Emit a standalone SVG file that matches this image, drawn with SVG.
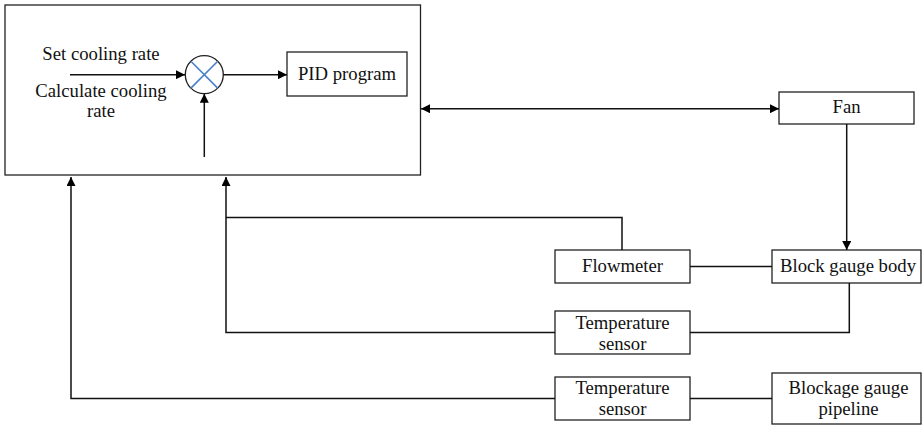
<svg xmlns="http://www.w3.org/2000/svg" width="922" height="425" viewBox="0 0 922 425">
<style>
.box{fill:#fff;stroke:#222;stroke-width:1.3}
.t{font-family:'Liberation Serif','DejaVu Serif',serif;font-size:18.7px;fill:#111;text-anchor:middle}
.c{fill:none;stroke:#111;stroke-width:1.5}
.x{stroke:#4a7fc9;stroke-width:1.6}
</style>
<defs>
<marker id="ah" viewBox="0 0 10 10" refX="10" refY="5" markerWidth="10" markerHeight="9" markerUnits="userSpaceOnUse" orient="auto-start-reverse">
<path d="M0,0 L10,5 L0,10 Z" fill="#000"/>
</marker>
</defs>
<rect fill="#fff" x="0" y="0" width="922" height="425"/>
<g id="controller">
<rect class="box" x="5" y="5" width="415.5" height="170"/>
<text class="t" x="101" y="60">Set cooling rate</text>
<text class="t" x="101" y="96.7">Calculate cooling</text>
<text class="t" x="101" y="117.3">rate</text>
</g>
<g id="sum">
<circle cx="204.3" cy="74.7" r="19" fill="#fff" stroke="#222" stroke-width="1.3"/>
<line class="x" x1="190.9" y1="61.3" x2="217.7" y2="88.1"/>
<line class="x" x1="217.7" y1="61.3" x2="190.9" y2="88.1"/>
</g>
<g id="pid">
<rect class="box" x="287" y="52" width="120" height="44"/>
<text class="t" x="347" y="80">PID program</text>
</g>
<g id="fan">
<rect class="box" x="779" y="92" width="135" height="32"/>
<text class="t" x="846.5" y="113.3">Fan</text>
</g>
<g id="flowmeter">
<rect class="box" x="555" y="250" width="135" height="33"/>
<text class="t" x="622.5" y="272">Flowmeter</text>
</g>
<g id="body">
<rect class="box" x="772" y="250" width="149" height="33"/>
<text class="t" x="848" y="272">Block gauge body</text>
</g>
<g id="temp1">
<rect class="box" x="555" y="311" width="135" height="43"/>
<text class="t" x="622.5" y="329">Temperature</text>
<text class="t" x="622.5" y="350">sensor</text>
</g>
<g id="temp2">
<rect class="box" x="555" y="377" width="135" height="43"/>
<text class="t" x="622.5" y="394.3">Temperature</text>
<text class="t" x="622.5" y="415">sensor</text>
</g>
<g id="pipeline">
<rect class="box" x="772" y="373" width="149" height="51"/>
<text class="t" x="848.5" y="394.3">Blockage gauge</text>
<text class="t" x="848.5" y="415">pipeline</text>
</g>
<g id="connectors">
<line class="c" x1="70" y1="74.7" x2="185" y2="74.7" marker-end="url(#ah)"/>
<line class="c" x1="223.3" y1="74.7" x2="287" y2="74.7" marker-end="url(#ah)"/>
<line class="c" x1="204.3" y1="157" x2="204.3" y2="93.7" marker-end="url(#ah)"/>
<line class="c" x1="421" y1="108.7" x2="779" y2="108.7" marker-start="url(#ah)" marker-end="url(#ah)"/>
<line class="c" x1="846.7" y1="124" x2="846.7" y2="250" marker-end="url(#ah)"/>
<line class="c" x1="690" y1="266.5" x2="772" y2="266.5"/>
<polyline class="c" points="622,250 622,217.5 226,217.5"/>
<polyline class="c" points="555,332.5 226,332.5 226,177" marker-end="url(#ah)"/>
<polyline class="c" points="690,332.5 849.3,332.5 849.3,283"/>
<polyline class="c" points="555,398.5 71,398.5 71,177" marker-end="url(#ah)"/>
<line class="c" x1="690" y1="398.5" x2="772" y2="398.5"/>
</g>
</svg>
